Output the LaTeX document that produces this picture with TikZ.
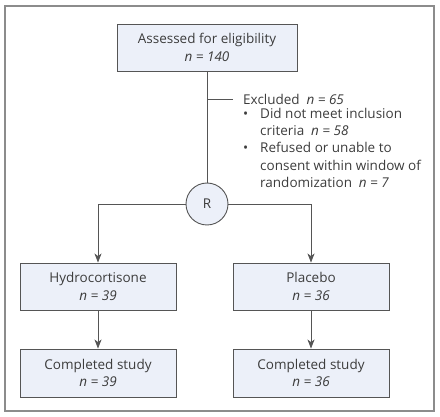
\documentclass[tikz,border=0pt]{standalone}
\usepackage{fontspec}
\setmainfont{Open Sans}
\usetikzlibrary{arrows.meta, positioning}
\definecolor{boxfill}{RGB}{236, 240, 249}
\definecolor{boxline}{RGB}{85, 85, 85}
\definecolor{txtgray}{RGB}{60, 60, 60}
\tikzset{
  flowbox/.style={
    draw=boxline, rectangle, fill=boxfill, line width=0.9pt,
    minimum width=156pt, minimum height=47pt, align=center,
    text=txtgray, font=\fontsize{13.5}{17.5}\selectfont
  },
  randcircle/.style={
    draw=boxline, circle, fill=boxfill, line width=0.9pt,
    minimum size=42pt, inner sep=0pt, text=txtgray,
    font=\fontsize{13.5}{17.5}\selectfont
  },
  note/.style={
    align=left, inner sep=0pt, text=txtgray,
    font=\fontsize{13.5}{17.3}\selectfont
  },
  arrow/.style={
    -{Stealth[length=9pt, width=7pt, inset=2.5pt]}, draw=boxline, line width=0.9pt
  },
  link/.style={draw=boxline, line width=0.9pt}
}

\begin{document}
\begin{tikzpicture}[x=1pt, y=-1pt]
            \useasboundingbox (0,0) rectangle (440,417);
            \draw[draw=gray!90, line width=1.4pt] (5,6) rectangle (434,411);

            \node[flowbox, minimum width=180pt] (assessed) at (207,47.5) {Assessed for eligibility\\\textit{n = 140}};
            \node[randcircle] (rand) at (207,204) {R};
            \node[flowbox] (hydro) at (98,286.5) {Hydrocortisone\\\textit{n = 39}};
            \node[flowbox] (placebo) at (311,286.5) {Placebo\\\textit{n = 36}};
            \node[flowbox, minimum height=48pt] (hydrodone) at (98,373) {Completed study\\\textit{n = 39}};
            \node[flowbox, minimum height=48pt] (placebodone) at (311,373) {Completed study\\\textit{n = 36}};

            % exclusions
            \node[note, anchor=west] (excl) at (243,99) {Excluded\enspace\textit{n = 65}};
            \node[note, anchor=north west] (exclist) at (243,106) {%
              \begin{tabular}{@{}p{17pt}@{}l@{}}
                \textbullet & Did not meet inclusion\\
                & criteria\enspace\textit{n = 58}\\
                \textbullet & Refused or unable to\\
                & consent within window of\\
                & randomization\enspace\textit{n = 7}
              \end{tabular}};
            \coordinate (tick) at (assessed.south |- excl.west);

            \draw[link] (assessed) -- (rand);
            \draw[link, shorten >=10pt] (tick) -- (excl.west);
            \draw[arrow] (rand.west) -| (hydro.north);
            \draw[arrow] (rand.east) -| (placebo.north);
            \draw[arrow] (hydro) -- (hydrodone);
            \draw[arrow] (placebo) -- (placebodone);
        \end{tikzpicture}
\end{document}
